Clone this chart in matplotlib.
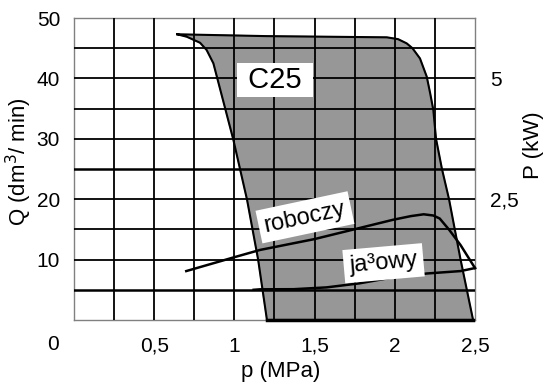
import numpy as np
import matplotlib.pyplot as plt

plt.rcParams['font.family'] = ['Liberation Sans', 'DejaVu Sans']

# ==============================
# DATA (p in MPa, Q in dm3/min)
# ==============================
# obszar pracy C25 - obrys: lewa krawedz, dol, prawa krawedz, gora
area_p = [0.644, 0.703, 0.786, 0.827, 0.869, 0.993, 1.079, 1.148, 1.203,
          2.488, 2.41, 2.338, 2.294, 2.257, 2.24, 2.22, 2.199, 2.157, 2.11, 2.074, 2.02, 1.95,
          1.2, 0.644]
area_q = [47.3, 46.9, 45.9, 44.7, 42.5, 29.9, 19.9, 10.0, 0.0,
          0.0, 10.0, 20.0, 25.0, 30.0, 34.8, 37.6, 40.3, 43.3, 45.0, 45.8, 46.5, 46.8,
          47.0, 47.3]

rob_p = [0.70, 1.00, 1.16, 1.50, 1.99, 2.10, 2.18, 2.24, 2.28, 2.34, 2.41, 2.50]
rob_q = [8.1, 10.4, 11.6, 13.4, 16.6, 17.2, 17.5, 17.3, 16.8, 14.9, 12.4, 8.6]

jal_p = [1.12, 1.16, 1.37, 1.575, 1.78, 1.99, 2.20, 2.41, 2.50]
jal_q = [5.0, 5.08, 5.1, 5.4, 6.07, 7.07, 7.7, 8.1, 8.6]

x_ticks = [0.5, 1, 1.5, 2, 2.5]
x_labels = ["0,5", "1", "1,5", "2", "2,5"]
y_ticks = [10, 20, 30, 40, 50]
p_ticks = [2.5, 5]
p_labels = ["2,5", "5"]
q_per_kw = 8.0  # 5 kW <-> 40 dm3/min

# ==============================
# FIGURE
# ==============================
fig = plt.figure(figsize=(5.48, 3.83), dpi=100)
ax = fig.add_axes([0.135, 0.1645, 0.7318, 0.7885])
ax.set_xlim(0, 2.5)
ax.set_ylim(0, 50)

# siatka
for xv in np.arange(0.25, 2.5, 0.25):
    ax.axvline(xv, color="black", lw=1.3, zorder=3)
for yv in np.arange(5, 50, 5):
    lw = 1.8 if yv in (5, 25) else 1.3
    ax.axhline(yv, color="black", lw=lw, zorder=3)

ax.fill(area_p, area_q, color="#979797", zorder=1)
ax.plot(area_p, area_q, color="black", lw=1.5, zorder=4)
ax.plot([1.203, 2.488], [0, 0], color="black", lw=2.5, zorder=4, clip_on=False)

ax.plot(rob_p, rob_q, color="black", lw=1.8, zorder=5, clip_on=False)
ax.plot(jal_p, jal_q, color="black", lw=1.8, zorder=5, clip_on=False)

box = dict(facecolor="white", edgecolor="none", pad=4)
ax.text(1.253, 39.8, " C25 ", fontsize=21, ha="center", va="center",
        bbox=dict(facecolor="white", edgecolor="none", pad=2), zorder=6)
ax.text(1.44, 17.0, "roboczy", fontsize=17, ha="center", va="center",
        rotation=12, bbox=box, zorder=6)
ax.text(1.93, 9.4, "ja³owy", fontsize=17, ha="center", va="center",
        rotation=5, bbox=box, zorder=6)

for s in ax.spines.values():
    s.set_color("#808080")
    s.set_linewidth(1.0)

ax.set_xticks(x_ticks)
ax.set_xticklabels(x_labels)
ax.set_yticks(y_ticks)
ax.tick_params(axis="both", length=0, labelsize=15)
ax.tick_params(axis="x", pad=12)
ax.tick_params(axis="y", pad=10)
ax.text(-0.131, -4.1, "0", fontsize=15, ha="center", va="center")

ax.set_xlabel("p (MPa)", fontsize=16)
ax.xaxis.set_label_coords(0.516, -0.135)
ax.set_ylabel("Q (dm$^3$/ min)", fontsize=16)
ax.yaxis.set_label_coords(-0.10, 0.523)

ax2 = ax.twinx()
ax2.set_ylim(0, 50 / q_per_kw)
ax2.set_yticks(p_ticks)
ax2.set_yticklabels(p_labels)
ax2.tick_params(axis="y", length=0, labelsize=15, pad=11)
for s in ax2.spines.values():
    s.set_visible(False)
ax2.set_ylabel("P (kW)", fontsize=16)
ax2.yaxis.set_label_coords(1.12, 0.58)

plt.savefig("out.png", dpi=100)
